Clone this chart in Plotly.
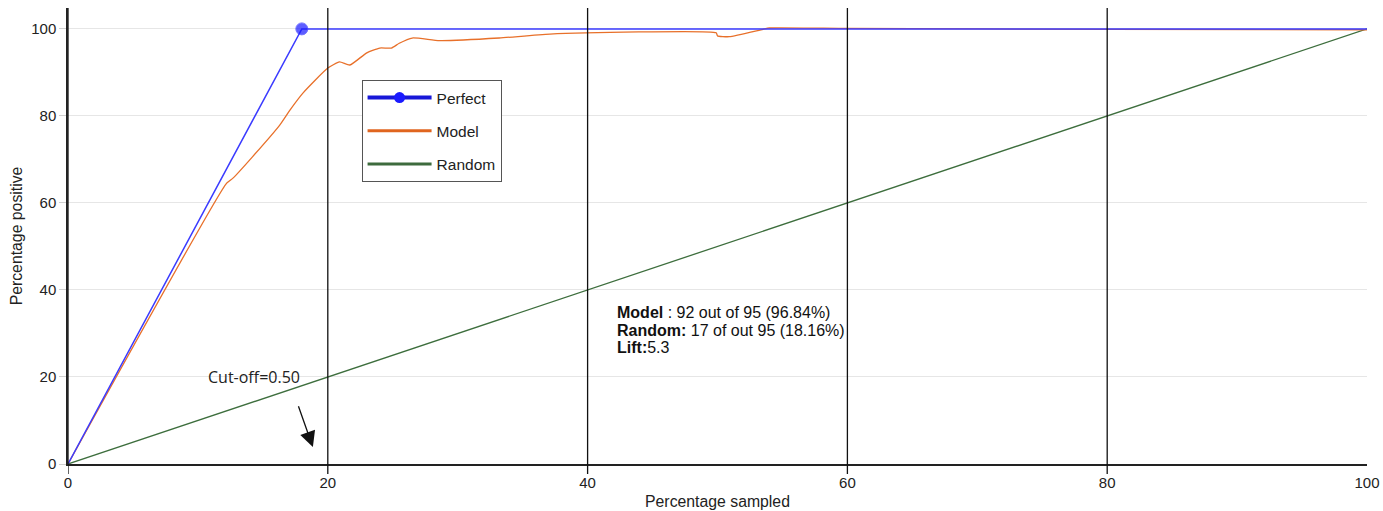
import plotly.graph_objects as go

# ---- data ----
perfect_x = [0, 18, 100]
perfect_y = [0, 100, 100]

model_x = [0, 12.2, 12.7, 14.2, 16.3, 17.1, 18.1, 20.0, 20.9, 21.7, 23.0, 24.0, 24.9,
           25.5, 26.5, 28.6, 33.2, 37.1, 49.9, 50.0, 50.9, 53.5, 54.0, 60, 80, 100]
model_y = [0, 64.5, 65.7, 70.6, 77.9, 81.4, 85.3, 91.0, 92.4, 91.7, 94.5, 95.6, 95.6,
           96.7, 97.9, 97.3, 97.9, 98.8, 99.1, 98.4, 98.2, 99.9, 100.2, 100.1, 99.9, 99.8]

random_x = [0, 100]
random_y = [0, 100]

x_ticks = [0, 20, 40, 60, 80, 100]
y_ticks = [0, 20, 40, 60, 80, 100]
vlines = [0, 20, 40, 60, 80]

info_lines = ["<b>Model</b> : 92 out of 95 (96.84%)",
              "<b>Random:</b> 17 of out 95 (18.16%)",
              "<b>Lift:</b>5.3"]
info_y = [34.9, 30.6, 26.8]

BLUE = "#3b3bff"
ORANGE = "#e8702a"
GREEN = "#3d6e3d"

fig = go.Figure()

# plotted traces (no legend)
fig.add_trace(go.Scatter(x=random_x, y=random_y, mode="lines",
                         line=dict(color=GREEN, width=1.3), showlegend=False, hoverinfo="skip"))
fig.add_trace(go.Scatter(x=model_x, y=model_y, mode="lines",
                         line=dict(color=ORANGE, width=1.3, shape="spline", smoothing=0.5),
                         showlegend=False, hoverinfo="skip"))
fig.add_trace(go.Scatter(x=perfect_x, y=perfect_y, mode="lines+markers",
                         line=dict(color=BLUE, width=1.5),
                         marker=dict(color="#1a1aff", size=[0, 12, 0]),
                         showlegend=False, hoverinfo="skip"))

# legend-only traces
fig.add_trace(go.Scatter(x=[None], y=[None], mode="lines+markers", name="Perfect",
                         line=dict(color="#1818d8", width=4), marker=dict(color="#1a1aff", size=11),
                         legendgroup="a"))
fig.add_trace(go.Scatter(x=[None], y=[None], mode="lines", name="Model",
                         line=dict(color="#e0651f", width=3), legendgroup="b"))
fig.add_trace(go.Scatter(x=[None], y=[None], mode="lines", name="Random",
                         line=dict(color="#3d6b3d", width=3), legendgroup="c"))

shapes = []
for v in vlines:
    shapes.append(dict(type="line", xref="x", yref="paper", x0=v, x1=v, y0=-0.022, y1=1.0,
                       line=dict(color="#111111", width=1.3), layer="above"))

annotations = [
    dict(x=14.3, y=20, xref="x", yref="y", text="Cut-off=0.50", showarrow=False,
         font=dict(family="Open Sans", size=16, color="#222222")),
    dict(x=18.85, y=3.9, ax=17.7, ay=13.6, xref="x", yref="y", axref="x", ayref="y",
         text="", showarrow=True, arrowhead=2, arrowsize=2.4, arrowwidth=1.3, arrowcolor="#111111"),
]
for t, yy in zip(info_lines, info_y):
    annotations.append(dict(x=42.1, y=yy, xref="x", yref="y", xanchor="left", yanchor="middle",
                            align="left", showarrow=False, text=t,
                            font=dict(family="Liberation Sans, Arial", size=16, color="#111111")))

fig.update_layout(
    width=1383, height=511,
    margin=dict(l=68, r=16, t=8, b=47, autoexpand=False),
    paper_bgcolor="white", plot_bgcolor="white",
    font=dict(family="Liberation Sans, Arial", size=14, color="#222222"),
    xaxis=dict(range=[0, 100], tickvals=x_ticks, showgrid=False, zeroline=False,
               showline=True, linecolor="#222222", linewidth=1.5, ticks="",
               ticklabelstandoff=4, automargin=False,
               title=dict(text="Percentage sampled", standoff=6, font=dict(size=15.8)),
               tickfont=dict(size=15)),
    yaxis=dict(range=[0, 104.8], tickvals=y_ticks, showgrid=True, gridcolor="#e6e6e6",
               zeroline=False, showline=True, linecolor="#222222", linewidth=1.5,
               ticks="outside", ticklen=7, tickcolor="#d0d0d0", automargin=False,
               title=dict(text="Percentage positive", standoff=5, font=dict(size=15.8)),
               tickfont=dict(size=15)),
    legend=dict(x=0.226, y=0.842, xanchor="left", yanchor="top",
                bgcolor="white", bordercolor="#555555", borderwidth=1,
                font=dict(size=15.5, color="#222222"), tracegroupgap=10, itemwidth=64),
    shapes=shapes,
    annotations=annotations,
)

fig.write_html("out.html")
